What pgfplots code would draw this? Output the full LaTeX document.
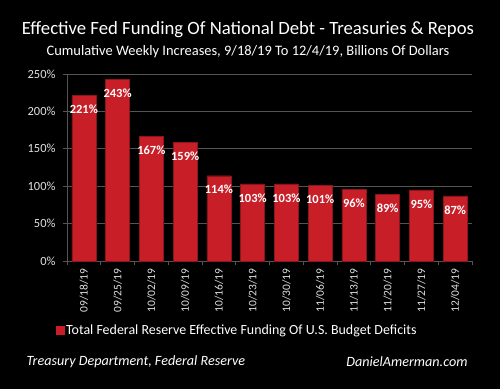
\documentclass[border=0pt]{standalone}
\usepackage{pgfplots}
\pgfplotsset{compat=1.18}
\usepackage{fontspec}
\setmainfont{Carlito}
\definecolor{barred}{RGB}{200,30,40}
\definecolor{bartop}{RGB}{235,60,65}
\definecolor{gridgray}{RGB}{85,85,85}
\definecolor{lbl}{RGB}{225,225,225}
\begin{document}
\begin{tikzpicture}[x=1bp,y=1bp]
\fill[black] (0,0) rectangle (500,389);
\node[white, font=\fontsize{18.8}{21}\selectfont] at (248,359) {Effective Fed Funding Of National Debt - Treasuries \& Repos};
\node[white, font=\fontsize{14.5}{16}\selectfont] at (248,337) {Cumulative Weekly Increases, 9/18/19 To 12/4/19, Billions Of Dollars};
\begin{axis}[
  at={(67bp,128bp)}, anchor=south west,
  scale only axis, width=405bp, height=187bp,
  xmin=-0.5, xmax=11.5, ymin=0, ymax=250,
  ytick={0,50,...,250},
  yticklabel={\pgfmathprintnumber{\tick}\%},
  /pgf/number format/assume math mode=true,
  xtick=data,
  xticklabels={09/18/19,09/25/19,10/02/19,10/09/19,10/16/19,10/23/19,10/30/19,11/06/19,11/13/19,11/20/19,11/27/19,12/04/19},
  x tick label style={rotate=90, anchor=east, font=\fontsize{11.5}{13}\selectfont, text=lbl},
  y tick label style={font=\fontsize{12.5}{14}\selectfont, text=lbl, xshift=-4bp},
  major x tick style={draw=none},
  minor xtick={-0.5,0.5,...,11.5},
  minor x tick style={draw=gridgray, thick},
  minor tick length=4bp,
  major tick length=4bp,
  tick align=outside,
  ytick style={draw=gridgray, thick},
  ymajorgrids, grid style={draw=gridgray, thick},
  axis x line*=bottom, axis y line*=left,
  axis line style={draw=gridgray, thick, -},
  ybar, bar width=24bp,
  nodes near coords={\pgfmathprintnumber{\pgfplotspointmeta}\%},
  every node near coord/.append style={anchor=north, yshift=-6bp, text=white, font=\bfseries\fontsize{12.5}{14}\selectfont},
  legend style={draw=none, fill=none, text=white, font=\fontsize{14}{16}\selectfont, at={(0.42,-0.369)}, anchor=center},
  legend image code/.code={\fill[barred] (0bp,-4bp) rectangle (8bp,4bp);},
]
\addplot[fill=barred, draw=barred!70!black] coordinates {
(0,221) (1,243) (2,167) (3,159) (4,114) (5,103) (6,103) (7,101) (8,96) (9,89) (10,95) (11,87)};
\addlegendentry{Total Federal Reserve Effective Funding Of U.S. Budget Deficits}
\end{axis}
\node[white, font=\itshape\fontsize{14.2}{16}\selectfont, anchor=west] at (23,27) {Treasury Department, Federal Reserve};
\node[white, font=\itshape\fontsize{14.2}{16}\selectfont, anchor=east] at (471,27) {DanielAmerman.com};
\end{tikzpicture}
\end{document}
